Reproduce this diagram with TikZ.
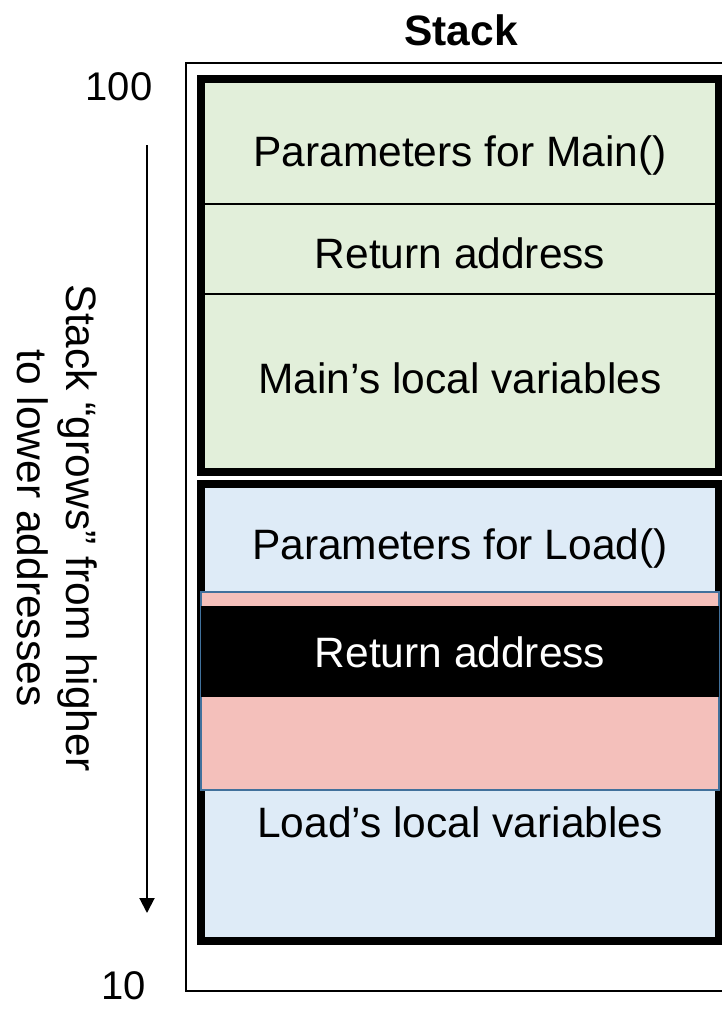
\documentclass[tikz,border=0pt]{standalone}
\usepackage{fontspec}
\setmainfont{Liberation Sans}
\usetikzlibrary{arrows.meta}
\definecolor{mainfill}{HTML}{E2EFDA}
\definecolor{loadfill}{HTML}{DEEBF7}
\definecolor{hitfill}{HTML}{F4C0BB}
\definecolor{hitline}{HTML}{41719C}
\tikzset{
  lbl/.style={font=\fontsize{42.5}{49}\selectfont, inner sep=0pt},
  addr/.style={font=\fontsize{40}{46}\selectfont, inner sep=0pt},
  frame/.style={draw=black, line width=8pt},
  divider/.style={draw=black, line width=1.5pt},
}
\begin{document}
\begin{tikzpicture}[x=1pt,y=-1pt]
\useasboundingbox (0,0) rectangle (722,1009);

% outer stack frame
\draw[line width=2pt] (186,63) rectangle (740,991);

% frame of Main()
\draw[frame, fill=mainfill] (201,79) rectangle (719,472);
\draw[divider] (205,204) -- (715,204);
\draw[divider] (205,294) -- (715,294);

% frame of Load()
\draw[frame, fill=loadfill] (201,484) rectangle (719,941);

% overwritten region and the return address inside it
\draw[draw=hitline, line width=1.5pt, fill=hitfill] (201,592) rectangle (719,790);
\fill[black] (201,606) rectangle (719,697);

% title
\node[lbl, font=\fontsize{42.5}{49}\selectfont\bfseries] (title) at (461,30) {Stack};

% slot labels
\node[lbl] (pmain) at (460,155) {Parameters for Main()};
\node[lbl] (rmain) at (460,253) {Return address};
\node[lbl] (lmain) at (460,378) {Main’s local variables};
\node[lbl] (pload) at (460,548) {Parameters for Load()};
\node[lbl, text=white] (rload) at (460,652) {Return address};
\node[lbl] (lload) at (460,822) {Load’s local variables};

% address marks
\node[addr] (hi) at (119,87) {100};
\node[addr] (lo) at (124,986) {10};

% growth direction
\coordinate (gtop) at (147,145);
\coordinate (gbot) at (147,913);
\draw[line width=2pt, -{Triangle[width=15pt,length=15pt]}] (gtop) -- (gbot);
\node[lbl, rotate=-90, align=center] (grow) at (57,528)
  {Stack “grows” from higher\\to lower addresses};
\end{tikzpicture}
\end{document}
